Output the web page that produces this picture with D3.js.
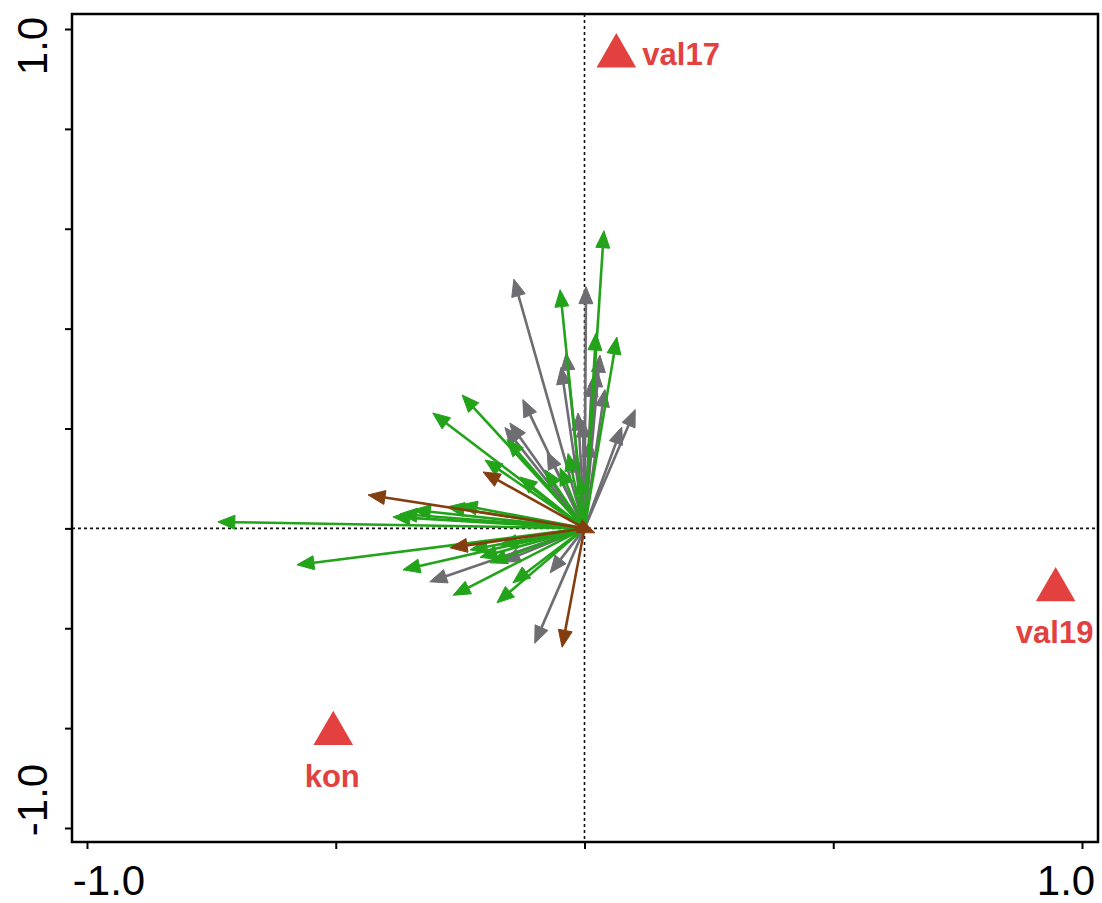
<!DOCTYPE html>
<html>
<head>
<meta charset="utf-8">
<script src="https://cdn.jsdelivr.net/npm/d3@7"></script>
<style>
  html, body { margin: 0; padding: 0; background: #fff; }
  svg { display: block; }
</style>
</head>
<body>
<svg id="chart" width="1102" height="903"></svg>
<script>
// Ordination biplot: species vectors (arrows) and sample centroids (triangles)

// Green species vectors: arrow tip coordinates
const greenX = [0.039, -0.049, 0.065, 0.023, -0.033, -0.246, -0.305, -0.200, -0.156, -0.130,
  -0.737, -0.385, -0.344, -0.371, -0.276, -0.250, -0.578, -0.365, -0.264, -0.176,
  -0.144, -0.190, -0.210, -0.230, -0.170, -0.049, -0.079, -0.009];
const greenY = [0.596, 0.478, 0.383, 0.391, 0.150, 0.267, 0.231, 0.137, 0.178, 0.103,
  0.013, 0.023, 0.037, 0.029, 0.043, 0.047, -0.073, -0.083, -0.134, -0.149,
  -0.109, -0.069, -0.058, -0.043, -0.033, 0.121, 0.117, 0.103];

// Gray species vectors
const grayX = [-0.142, 0.003, -0.037, -0.047, 0.031, 0.025, 0.041, 0.102, 0.075, -0.124,
  -0.150, -0.160, -0.075, -0.013, -0.003, -0.311, -0.100, -0.069, -0.164, -0.019, 0.011, 0.015];
const grayY = [0.499, 0.484, 0.351, 0.323, 0.347, 0.318, 0.278, 0.238, 0.203, 0.258,
  0.211, 0.202, 0.153, 0.231, 0.217, -0.107, -0.230, -0.089, -0.067, 0.147, 0.177, 0.298];

// Brown species vectors
const brownX = [-0.435, -0.204, -0.270, 0.021, -0.045];
const brownY = [0.067, 0.113, -0.039, -0.009, -0.238];

// Sample group centroids
const siteNames = ["val17", "val19", "kon"];
const siteX = [0.064, 0.947, -0.505];
const siteY = [0.946, -0.123, -0.411];
const siteLabelPos = ["right", "below", "below"];

// Axis ticks and the labels printed at the extreme ticks
const xTicks = [-1.0, -0.5, 0, 0.5, 1.0];
const yTicks = [-0.6, -0.4, -0.2, 0, 0.2, 0.4, 0.6, 0.8, 1.0];
const xTickLabels = ["-1.0", "1.0"];
const yTickLabels = ["-1.0", "1.0"];

const colors = { green: "#22a31a", gray: "#6d6d72", brown: "#843d0e", site: "#e2413f" };

const svg = d3.select("#chart");
const x = d3.scaleLinear().domain([-1, 1]).range([87, 1082]);
const y = d3.scaleLinear().domain([-0.6, 1.0]).range([828, 29]);

// Plot frame
const frame = { left: 72, right: 1098, top: 14, bottom: 842 };
const xMin = x.invert(frame.left), xMax = x.invert(frame.right);
const yMax = y.invert(frame.top), yMin = y.invert(frame.bottom);

// Zero lines
svg.append("line")
  .attr("x1", x(0)).attr("x2", x(0)).attr("y1", y(yMax)).attr("y2", y(yMin))
  .attr("stroke", "#111").attr("stroke-width", 1.6).attr("stroke-dasharray", "3,3");
svg.append("line")
  .attr("x1", x(xMin)).attr("x2", x(xMax)).attr("y1", y(0)).attr("y2", y(0))
  .attr("stroke", "#111").attr("stroke-width", 1.6).attr("stroke-dasharray", "3,3");

// Arrows from the origin to each vector tip
function drawArrows(xs, ys, color) {
  const g = svg.append("g");
  const x0 = x(0), y0 = y(0);
  const headLen = 17, headHalf = 7;
  xs.forEach((vx, i) => {
    const tx = x(vx), ty = y(ys[i]);
    const dx = tx - x0, dy = ty - y0;
    const len = Math.sqrt(dx * dx + dy * dy);
    const ux = dx / len, uy = dy / len;
    const bx = tx - ux * headLen, by = ty - uy * headLen;
    g.append("line")
      .attr("x1", x0).attr("y1", y0).attr("x2", bx).attr("y2", by)
      .attr("stroke", color).attr("stroke-width", 2.6);
    const px = -uy, py = ux;
    g.append("path")
      .attr("d", `M${tx},${ty}L${bx + px * headHalf},${by + py * headHalf}L${bx - px * headHalf},${by - py * headHalf}Z`)
      .attr("fill", color).attr("stroke", color).attr("stroke-width", 1);
  });
}
drawArrows(grayX, grayY, colors.gray);
drawArrows(greenX, greenY, colors.green);
drawArrows(brownX, brownY, colors.brown);

// Centroid triangles and labels
const tri = d3.symbol().type(d3.symbolTriangle).size(680);
siteNames.forEach((name, i) => {
  const cx = x(siteX[i]), cy = y(siteY[i]);
  svg.append("path")
    .attr("d", tri())
    .attr("transform", `translate(${cx},${cy})`)
    .attr("fill", colors.site);
  const t = svg.append("text")
    .text(name)
    .attr("fill", colors.site)
    .attr("font-family", "'Liberation Sans', Arial, sans-serif")
    .attr("font-weight", "bold")
    .attr("font-size", 31);
  if (siteLabelPos[i] === "right") {
    t.attr("x", cx + 26).attr("y", cy + 9).attr("text-anchor", "start");
  } else {
    t.attr("x", cx - 1).attr("y", cy + 53).attr("text-anchor", "middle");
  }
});

// Axes
const xAxis = d3.axisBottom(x).tickValues(xTicks).tickSize(7).tickFormat("");
const yAxis = d3.axisLeft(y).tickValues(yTicks).tickSize(7).tickFormat("");
const gx = svg.append("g").attr("transform", `translate(0,${frame.bottom})`).call(xAxis);
const gy = svg.append("g").attr("transform", `translate(${frame.left},0)`).call(yAxis);
[gx, gy].forEach(g => {
  g.select(".domain").remove();
  g.selectAll(".tick line").attr("stroke", "#000").attr("stroke-width", 2);
});

svg.append("rect")
  .attr("x", frame.left).attr("y", frame.top)
  .attr("width", frame.right - frame.left).attr("height", frame.bottom - frame.top)
  .attr("fill", "none").attr("stroke", "#000").attr("stroke-width", 2.5);

// Tick labels at the extreme ticks, nudged inward
const labelFont = "'Liberation Sans', Arial, sans-serif";
const labelSize = 42;
const xEnds = [xTicks[0], xTicks[xTicks.length - 1]];
const yEnds = [yTicks[0], yTicks[yTicks.length - 1]];
svg.append("text").text(xTickLabels[0])
  .attr("x", x(xEnds[0]) + 22).attr("y", 895).attr("text-anchor", "middle")
  .attr("font-family", labelFont).attr("font-size", labelSize);
svg.append("text").text(xTickLabels[1])
  .attr("x", x(xEnds[1]) - 16).attr("y", 895).attr("text-anchor", "middle")
  .attr("font-family", labelFont).attr("font-size", labelSize);
svg.append("text").text(yTickLabels[1])
  .attr("transform", `translate(47,${y(yEnds[1]) + 17}) rotate(-90)`).attr("text-anchor", "middle")
  .attr("font-family", labelFont).attr("font-size", labelSize);
svg.append("text").text(yTickLabels[0])
  .attr("transform", `translate(47,${y(yEnds[0]) - 28}) rotate(-90)`).attr("text-anchor", "middle")
  .attr("font-family", labelFont).attr("font-size", labelSize);
</script>
</body>
</html>
